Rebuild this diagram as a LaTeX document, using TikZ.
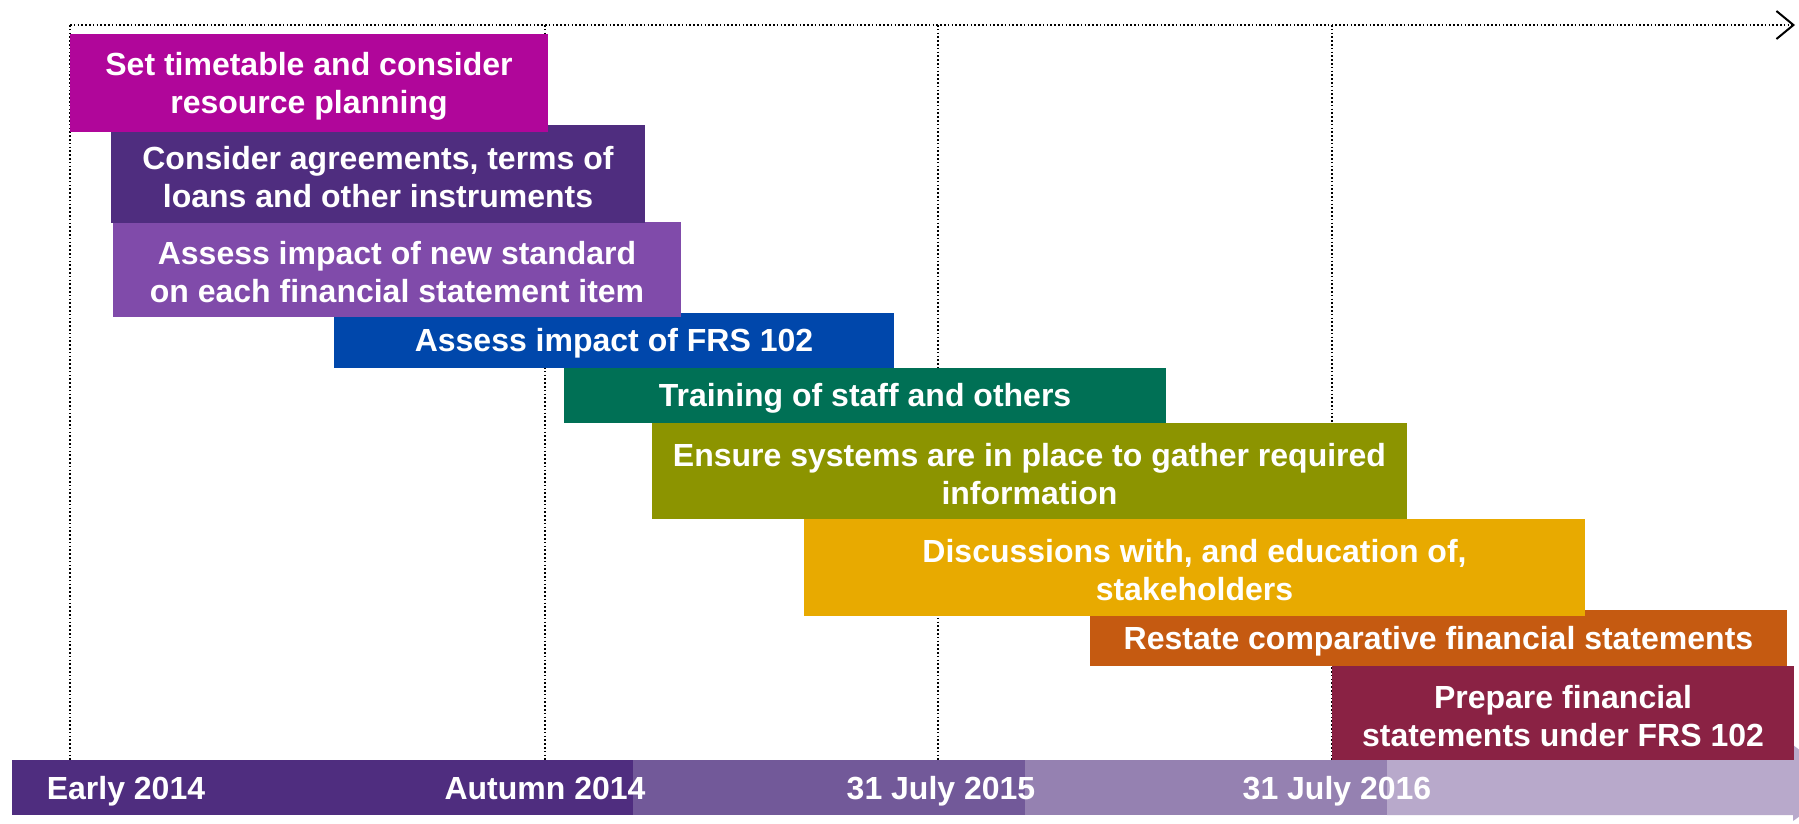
\documentclass[tikz,border=0pt]{standalone}
\usepackage{fontspec}
\setmainfont{Liberation Sans}
\usepackage{tikz}
\usetikzlibrary{arrows.meta}
\definecolor{cMagenta}{HTML}{B0069A}
\definecolor{cPurple}{HTML}{4F2D7F}
\definecolor{cLilac}{HTML}{804BAA}
\definecolor{cBlue}{HTML}{0047AB}
\definecolor{cGreen}{HTML}{007055}
\definecolor{cOlive}{HTML}{8C9400}
\definecolor{cGold}{HTML}{E8AA00}
\definecolor{cOrange}{HTML}{C55A11}
\definecolor{cMaroon}{HTML}{8A2244}
\definecolor{cBarA}{HTML}{4F2D7F}
\definecolor{cBarB}{HTML}{725999}
\definecolor{cBarC}{HTML}{9581B1}
\definecolor{cBarD}{HTML}{B8A9CB}

\begin{document}
\begin{tikzpicture}[x=1pt,y=-1pt,
  task/.style={rectangle,inner sep=0pt},
  txt/.style={inner sep=0pt,align=center,text=white,
    font=\bfseries\fontsize{32}{38}\selectfont},
  date/.style={anchor=base,text=white,font=\bfseries\fontsize{32}{38}\selectfont},
  grid/.style={line width=1.6pt,dash pattern=on 1.6pt off 2.2pt}]
\useasboundingbox (0,0) rectangle (1799,823);
\clip (0,0) rectangle (1799,823);

\coordinate (O) at (70,25);
\coordinate (E) at (1795,25);
\foreach \x/\n in {70/a,545/b,938/c,1332/d} {
  \coordinate (top\n) at (\x,25);
  \coordinate (bot\n) at (\x,760);
  \draw[grid] (top\n) -- (bot\n);
}
\draw[grid,line width=1.8pt,-{Straight Barb[length=17pt,width=28pt,line width=2pt]}] (O) -- (E);

% time bar
\fill[cBarA] (12,760) rectangle (633,815);
\fill[cBarB] (633,760) rectangle (1024.5,815);
\fill[cBarC] (1024.5,760) rectangle (1387,815);
\fill[cBarD] (1387,760) -- (1793,760) -- (1793,745) -- (1845,784)
  -- (1793,821) -- (1793,815) -- (1387,815) -- cycle;
\node[date] (early) at (126,799) {Early 2014};
\node[date] (autumn) at (545,799) {Autumn 2014};
\node[date] (jul15) at (941,799) {31 July 2015};
\node[date] (jul16) at (1337,799) {31 July 2016};

% tasks, last one first
\node[task,fill=cMaroon,minimum width=462pt,minimum height=94pt] (prepare) at (1563,713) {};
\node[txt] (prepareT) at ([yshift=-3pt]prepare.center) {Prepare financial\\statements under FRS 102};
\node[task,fill=cOrange,minimum width=697pt,minimum height=56pt] (restate) at (1438.5,638) {};
\node[txt] (restateT) at ([yshift=-3pt]restate.center) {Restate comparative financial statements};
\node[task,fill=cGold,minimum width=781pt,minimum height=97pt] (talks) at (1194.5,567.5) {};
\node[txt] (talksT) at ([yshift=-3pt]talks.center) {Discussions with, and education of,\\stakeholders};
\node[task,fill=cOlive,minimum width=755pt,minimum height=96pt] (systems) at (1029.5,471) {};
\node[txt] (systemsT) at ([yshift=-3pt]systems.center) {Ensure systems are in place to gather required\\information};
\node[task,fill=cGreen,minimum width=602pt,minimum height=55pt] (train) at (865,395.5) {};
\node[txt] (trainT) at ([yshift=-3pt]train.center) {Training of staff and others};
\node[task,fill=cBlue,minimum width=560pt,minimum height=55pt] (frs) at (614,340.5) {};
\node[txt] (frsT) at ([yshift=-3pt]frs.center) {Assess impact of FRS 102};
\node[task,fill=cLilac,minimum width=568pt,minimum height=95pt] (impact) at (397,269.5) {};
\node[txt] (impactT) at ([yshift=-3pt]impact.center) {Assess impact of new standard\\on each financial statement item};
\node[task,fill=cPurple,minimum width=534pt,minimum height=98pt] (agree) at (378,174) {};
\node[txt] (agreeT) at ([yshift=-3pt]agree.center) {Consider agreements, terms of\\loans and other instruments};
\node[task,fill=cMagenta,minimum width=478pt,minimum height=98pt] (plan) at (309,83) {};
\node[txt] (planT) at ([yshift=-3pt]plan.center) {Set timetable and consider\\resource planning};
\end{tikzpicture}
\end{document}
